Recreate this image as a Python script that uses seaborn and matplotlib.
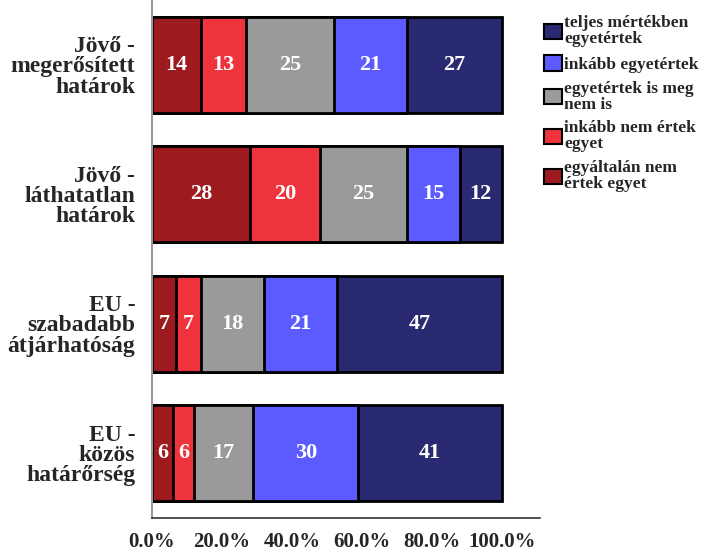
import numpy as np
import pandas as pd
import matplotlib
matplotlib.use("Agg")
import matplotlib.pyplot as plt
import seaborn as sns
from matplotlib.patches import Patch

# data (percent)
categories = ["Jövő -\nmegerősített\nhatárok", "Jövő -\nláthatatlan\nhatárok",
              "EU -\nszabadabb\nátjárhatóság", "EU -\nközös\nhatárőrség"]
answers = ["egyáltalán nem\nértek egyet", "inkább nem értek\negyet",
           "egyetértek is meg\nnem is", "inkább egyetértek", "teljes mértékben\negyetértek"]
v_egyaltalan = [14, 28, 7, 6]
v_inkabb_nem = [13, 20, 7, 6]
v_semleges = [25, 25, 18, 17]
v_inkabb = [21, 15, 21, 30]
v_teljes = [27, 12, 47, 41]
colors = ["#9d1b1f", "#ef333c", "#9a9a9a", "#5b5bff", "#2a2a72"]

values = [v_egyaltalan, v_inkabb_nem, v_semleges, v_inkabb, v_teljes]
df = pd.DataFrame({"cat": categories})
for ans, vals in zip(answers, values):
    df[ans] = vals
cum = df[answers].cumsum(axis=1)

sns.set_style("white")
plt.rcParams["font.family"] = ["Liberation Serif", "DejaVu Serif"]
plt.rcParams["font.weight"] = "bold"

fig = plt.figure(figsize=(7.1, 5.58), dpi=100)
ax = fig.add_axes([0.214, 0.0717, 0.547, 0.9283])

# stacked bars: draw cumulative totals from widest to narrowest
for i in range(len(answers) - 1, -1, -1):
    sns.barplot(x=cum[answers[i]], y=df["cat"], color=colors[i], orient="h",
                width=0.74, edgecolor="black", linewidth=2, ax=ax, saturation=1)

# value labels
for j in range(len(categories)):
    start = 0
    for i, ans in enumerate(answers):
        v = df[ans][j]
        ax.text(start + v / 2, j, str(v), ha="center", va="center", color="white",
                fontsize=16, fontweight="bold")
        start += v

ax.set_xlim(0, 111)
ax.set_ylim(3.5, -0.5)
ax.set_xticks([0, 20, 40, 60, 80, 100])
ax.set_xticklabels([f"{t:.1f}%" for t in [0, 20, 40, 60, 80, 100]], fontsize=15, fontweight="bold")
ax.set_yticks(range(len(categories)))
ax.set_yticklabels(categories, fontsize=17, fontweight="bold", linespacing=0.95)
ax.set_xlabel("")
ax.set_ylabel("")
ax.tick_params(axis="x", direction="out", length=6, color="#333333", pad=4)
ax.tick_params(axis="y", direction="out", length=12, color="#555555", pad=0)
for s in ["top", "right"]:
    ax.spines[s].set_visible(False)
ax.spines["left"].set_color("#999999")
ax.spines["left"].set_linewidth(1.5)
ax.spines["bottom"].set_color("#333333")
ax.spines["bottom"].set_linewidth(1.2)

handles = [Patch(facecolor=colors[i], edgecolor="black", linewidth=1.5, label=answers[i])
           for i in range(len(answers) - 1, -1, -1)]
leg = fig.legend(handles=handles, loc="upper left", bbox_to_anchor=(0.757, 0.985),
                 frameon=False, handlelength=1.0, handleheight=1.0,
                 handletextpad=0.15, labelspacing=0.45, borderaxespad=0,
                 prop={"weight": "bold", "size": 12.5})
for t in leg.get_texts():
    t.set_linespacing(1.0)

fig.savefig("out.png", dpi=100)
